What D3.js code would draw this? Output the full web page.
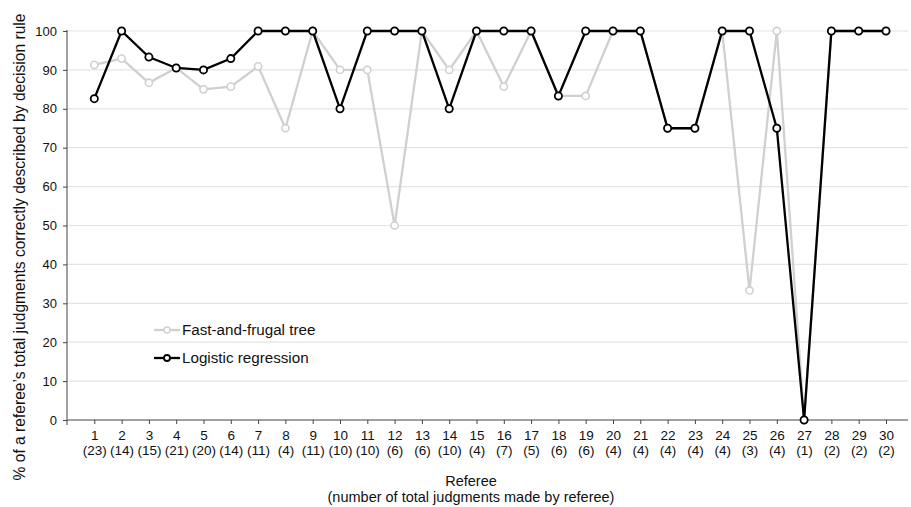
<!DOCTYPE html>
<html><head><meta charset="utf-8">
<script src="https://cdn.jsdelivr.net/npm/d3@7"></script>
<style>body{margin:0;background:#fff}svg{display:block;font-family:"Liberation Sans",Arial,Helvetica,sans-serif}</style>
</head><body><svg id="c" width="911" height="507"></svg>
<script>
const referees = d3.range(1, 31);
const judgments = [23,14,15,21,20,14,11,4,11,10,10,6,6,10,4,7,5,6,6,4,4,4,4,4,3,4,1,2,2,2];
const fft = [91.3,92.9,86.7,90.5,85,85.7,90.9,75,100,90,90,50,100,90,100,85.7,100,83.3,83.3,100,100,75,75,100,33.3,100,0,100,100,100];
const logistic = [82.6,100,93.3,90.5,90,92.9,100,100,100,80,100,100,100,80,100,100,100,83.3,100,100,100,75,75,100,100,75,0,100,100,100];
const yTicks = [0,10,20,30,40,50,60,70,80,90,100];
const seriesNames = ["Fast-and-frugal tree","Logistic regression"];

const svg = d3.select("#c");
const x = d3.scaleLinear().domain([0, 31]).range([67, 913.3]);
const y = d3.scaleLinear().domain([0, 100]).range([420, 31]);
const xEnd = 908;

// gridlines
svg.append("g").selectAll("line").data(yTicks.filter(d=>d>0)).join("line")
  .attr("x1", 67).attr("x2", xEnd).attr("y1", d=>y(d)).attr("y2", d=>y(d))
  .attr("stroke", "#e4e4e4").attr("stroke-width", 1.2);

// y axis
const yAxis = svg.append("g").attr("transform", "translate(67,0)")
  .call(d3.axisLeft(y).tickValues(yTicks).tickSize(4).tickPadding(6));
yAxis.select(".domain").attr("stroke", "#444").attr("d", `M0,${y(100)-1}V${y(0)+5}`);
yAxis.selectAll(".tick line").attr("stroke", "#444");
yAxis.selectAll("text").attr("font-size", 13).attr("fill", "#111").attr("font-family", "Liberation Sans, Arial, sans-serif");

// x axis
const xAxis = svg.append("g").attr("transform", "translate(0,420)")
  .call(d3.axisBottom(x).tickValues(referees).tickSize(4).tickFormat(""));
xAxis.select(".domain").attr("stroke", "#444").attr("d", `M67,0H${xEnd}`);
xAxis.selectAll(".tick line").attr("stroke", "#444");
const lab = xAxis.selectAll(".tick").append("text").attr("fill", "#111").attr("font-size", 13.5)
  .attr("text-anchor", "middle").attr("font-family", "Liberation Sans, Arial, sans-serif");
lab.append("tspan").attr("x", 0).attr("y", 20).text(d => d);
lab.append("tspan").attr("x", 0).attr("y", 35).text((d,i) => "(" + judgments[i] + ")");

// axis titles
svg.append("text").attr("transform", "translate(25,247) rotate(-90)")
  .attr("text-anchor", "middle").attr("font-size", 15.6).attr("fill", "#111")
  .text("% of a referee\u2019s total judgments correctly described by decision rule");
svg.append("text").attr("x", 471).attr("y", 486).attr("text-anchor", "middle")
  .attr("font-size", 14.5).attr("fill", "#111").text("Referee");
svg.append("text").attr("x", 471).attr("y", 502).attr("text-anchor", "middle")
  .attr("font-size", 14.5).attr("fill", "#111").text("(number of total judgments made by referee)");

const line = d3.line().x((d,i) => x(referees[i])).y(d => y(d));
function drawSeries(vals, color, lw, cw) {
  const g = svg.append("g");
  g.append("path").datum(vals).attr("d", line).attr("fill", "none")
    .attr("stroke", color).attr("stroke-width", lw).attr("stroke-linejoin", "miter");
  g.selectAll("circle").data(vals).join("circle")
    .attr("cx", (d,i) => x(referees[i])).attr("cy", d => y(d)).attr("r", 3.6)
    .attr("fill", "#fff").attr("stroke", color).attr("stroke-width", cw);
}
drawSeries(fft, "#d0d0d0", 2.3, 1.6);
drawSeries(logistic, "#000", 2.3, 1.8);

// legend
const leg = [{name: seriesNames[0], color: "#d0d0d0", cw: 1.4, yy: 330},
             {name: seriesNames[1], color: "#000", cw: 1.8, yy: 358}];
const lg = svg.append("g").selectAll("g").data(leg).join("g");
lg.append("line").attr("x1", 154).attr("x2", 180).attr("y1", d=>d.yy).attr("y2", d=>d.yy)
  .attr("stroke", d=>d.color).attr("stroke-width", 2.3);
lg.append("circle").attr("cx", 167).attr("cy", d=>d.yy).attr("r", 3)
  .attr("fill", "#fff").attr("stroke", d=>d.color).attr("stroke-width", d=>d.cw);
lg.append("text").attr("x", 182).attr("y", d=>d.yy + 5).attr("font-size", 15.2).attr("fill", "#111")
  .text(d=>d.name);
</script></body></html>
